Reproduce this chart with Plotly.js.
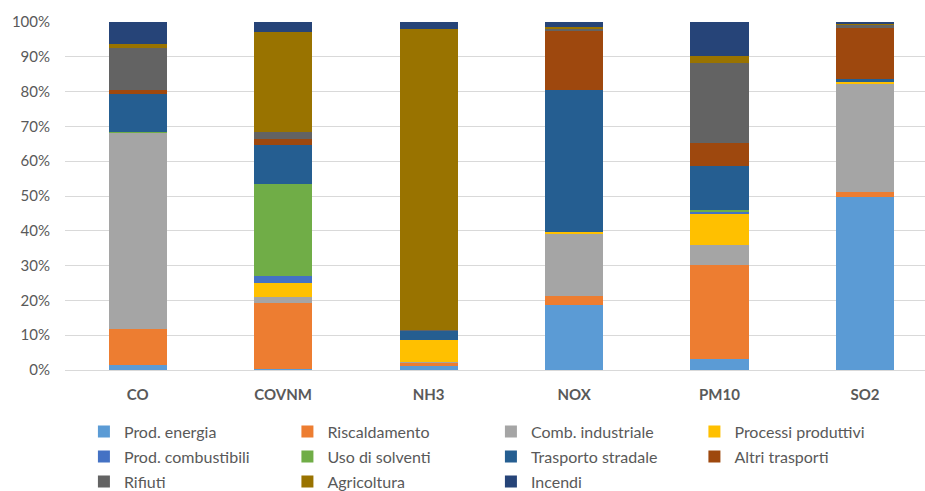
<!DOCTYPE html>
<html>
<head>
<meta charset="utf-8">
<script src="https://cdn.plot.ly/plotly-3.0.1.min.js"></script>
<style>
  html, body { margin: 0; padding: 0; background: #ffffff; }
  #chart { width: 925px; height: 491px; }
</style>
</head>
<body>
<div id="chart"></div>
<script>
// Pollutants on the category axis
const categories = ['CO', 'COVNM', 'NH3', 'NOX', 'PM10', 'SO2'];

// Share (%) of each emission source, in the order of the categories above
const prodEnergia        = [1.5, 0.4, 1.2, 18.8, 3.1, 49.8];
const riscaldamento      = [10.3, 18.8, 0.7, 2.5, 27.2, 1.4];
const combIndustriale    = [56.2, 1.7, 0.5, 17.8, 5.6, 31.1];
const processiProduttivi = [0.2, 4.2, 6.1, 0.7, 8.9, 0.6];
const prodCombustibili   = [0.0, 1.9, 0.0, 0.0, 0.7, 0.0];
const usoSolventi        = [0.1, 26.5, 0.0, 0.0, 0.4, 0.0];
const trasportoStradale  = [11.0, 11.3, 2.6, 40.6, 12.7, 0.6];
const altriTrasporti     = [1.3, 1.7, 0.1, 17.0, 6.7, 14.9];
const rifiuti            = [12.0, 1.8, 0.2, 0.5, 22.8, 0.7];
const agricoltura        = [1.0, 28.9, 86.6, 0.7, 2.2, 0.3];
const incendi            = [6.4, 2.8, 2.0, 1.4, 9.7, 0.6];

const seriesNames = [
  'Prod. energia', 'Riscaldamento', 'Comb. industriale', 'Processi produttivi',
  'Prod. combustibili', 'Uso di solventi', 'Trasporto stradale', 'Altri trasporti',
  'Rifiuti', 'Agricoltura', 'Incendi'
];
const seriesValues = [
  prodEnergia, riscaldamento, combIndustriale, processiProduttivi,
  prodCombustibili, usoSolventi, trasportoStradale, altriTrasporti,
  rifiuti, agricoltura, incendi
];
const seriesColors = [
  '#5B9BD5', '#ED7D31', '#A5A5A5', '#FFC000',
  '#4472C4', '#70AD47', '#255E91', '#9E480E',
  '#636363', '#997300', '#264478'
];

const yTickVals = [0, 10, 20, 30, 40, 50, 60, 70, 80, 90, 100];
const yTickLabels = ['0%', '10%', '20%', '30%', '40%', '50%', '60%', '70%', '80%', '90%', '100%'];

// Four legend entries per row; each row is its own legend so the row spacing can be set
const legendIds = ['legend', 'legend2', 'legend3'];

const traces = seriesNames.map((name, i) => ({
  type: 'bar',
  name: name,
  x: categories,
  y: seriesValues[i],
  legend: legendIds[Math.floor(i / 4)],
  marker: { color: seriesColors[i], line: { width: 0 } },
  hoverinfo: 'skip'
}));

const textGrey = '#595959';
const fontFamily = 'Lato, "Liberation Sans", sans-serif';

function legendRow(yCenter) {
  return {
    orientation: 'h',
    traceorder: 'normal',
    xref: 'paper',
    x: 0.022,
    xanchor: 'left',
    yref: 'container',
    y: yCenter,
    yanchor: 'middle',
    entrywidth: 158.5,
    entrywidthmode: 'pixels',
    font: { family: fontFamily, size: 16, color: textGrey },
    bgcolor: 'rgba(0,0,0,0)',
    borderwidth: 0
  };
}

const layout = {
  width: 925,
  height: 491,
  barmode: 'stack',
  bargap: 0.6,
  paper_bgcolor: '#ffffff',
  plot_bgcolor: '#ffffff',
  font: { family: fontFamily, color: textGrey, size: 15 },
  margin: { l: 65, r: 0, t: 22, b: 121, pad: 0 },
  showlegend: true,
  legend: legendRow(1 - 431.7 / 491),
  legend2: legendRow(1 - 456.7 / 491),
  legend3: legendRow(1 - 481.7 / 491),
  xaxis: {
    type: 'category',
    range: [-0.5, 5.413],
    showgrid: false,
    zeroline: false,
    showline: false,
    ticks: '',
    ticklabelstandoff: 14,
    tickfont: { family: fontFamily, size: 15, color: textGrey, weight: 'bold' },
    fixedrange: true
  },
  yaxis: {
    range: [0, 100],
    tickmode: 'array',
    tickvals: yTickVals,
    ticktext: yTickLabels,
    showgrid: true,
    gridcolor: '#D9D9D9',
    gridwidth: 1,
    zeroline: true,
    zerolinecolor: '#D9D9D9',
    zerolinewidth: 1,
    showline: false,
    ticks: '',
    ticklabelstandoff: 14,
    tickfont: { family: fontFamily, size: 15, color: textGrey },
    fixedrange: true
  }
};

Plotly.newPlot('chart', traces, layout, { displayModeBar: false, staticPlot: true });
</script>
</body>
</html>
